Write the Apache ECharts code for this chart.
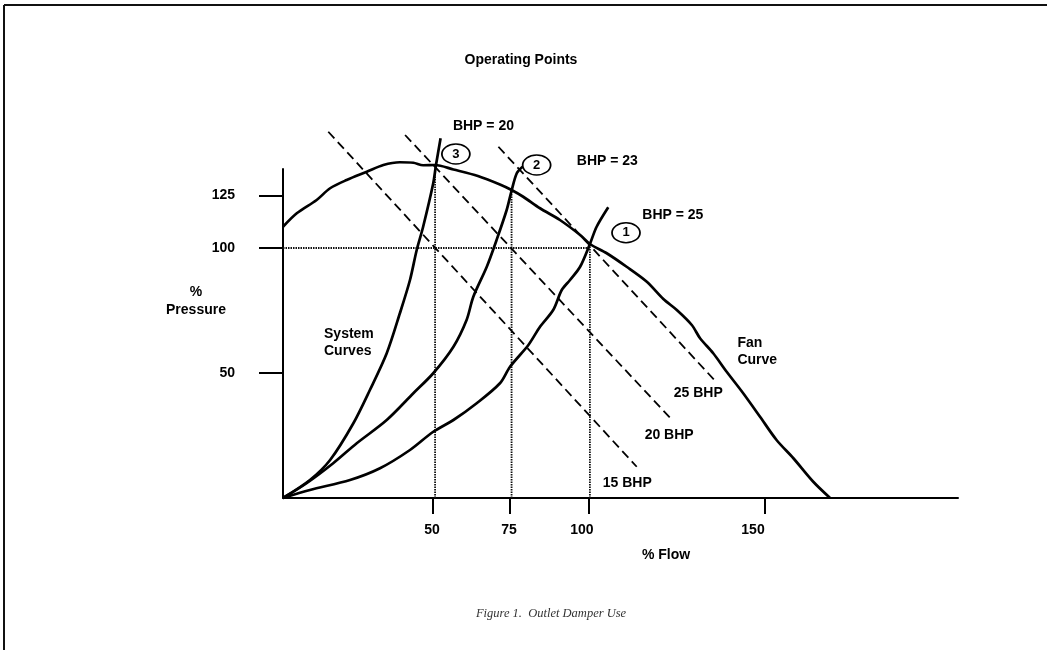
<!DOCTYPE html>
<html>
<head>
<meta charset="utf-8">
<script src="https://cdn.jsdelivr.net/npm/echarts@6/dist/echarts.min.js"></script>
<style>
html,body{margin:0;padding:0;background:#fff;}
#chart{width:1047px;height:650px;}
</style>
</head>
<body>
<div id="chart"></div>
<script>
// ---- data (% flow / % pressure units) ----
const fanX = [0, 4.5, 11.0, 15.4, 20.8, 27.4, 32.8, 38.2, 42.6, 45.8, 49.7, 55.7, 63.7, 70.9, 74.7, 78.5, 84.0, 90.5, 97.1, 100.3, 105.8, 112.3, 118.9, 124.3, 128.7, 133.6, 136.3, 140.6, 145.0, 150.4, 155.9, 161.3, 166.8, 173.3, 178.8];
const fanY = [108.5, 113.9, 119.2, 123.9, 127.2, 130.5, 133.2, 134.3, 134.1, 133.1, 133.2, 131.4, 128.8, 125.4, 123.2, 120.5, 115.9, 111.2, 105.2, 101.6, 97.9, 92.5, 86.5, 79.6, 75.2, 69.2, 63.9, 57.9, 50.5, 41.9, 32.5, 23.2, 15.9, 6.5, 0];

const sysAX = [0, 8.8, 15.4, 23.0, 28.4, 33.9, 38.2, 41.5, 43.7, 45.8, 49.1, 50.0, 51.5];
const sysAY = [0, 7.2, 15.2, 29.9, 43.2, 57.9, 73.9, 87.2, 99.2, 108.5, 125.9, 133.2, 143.9];

const sysBX = [0, 7.7, 16.4, 24.1, 33.9, 42.6, 49.1, 55.7, 60.0, 62.2, 66.6, 69.8, 73.1, 74.7, 76.4, 78.3];
const sysBY = [0, 5.9, 13.9, 21.9, 31.2, 41.9, 49.9, 60.5, 71.2, 80.5, 92.5, 103.2, 115.2, 122.9, 129.9, 132.5];

const sysCX = [0, 8.8, 21.9, 31.7, 41.5, 49.1, 55.7, 63.3, 70.9, 74.2, 80.2, 84.0, 88.3, 91.1, 93.8, 97.1, 100.3, 102.5, 106.3];
const sysCY = [0, 3.2, 7.2, 11.9, 19.2, 26.5, 31.2, 37.9, 45.9, 52.5, 61.2, 68.5, 75.2, 83.2, 87.2, 92.5, 101.6, 108.5, 116.3];

// constant-BHP lines: [startX, startY, endX, endY]
const bhpNames = ['15 BHP', '20 BHP', '25 BHP'];
const bhpLines = [[14.8, 146.5, 115.6, 12.5], [39.9, 145.2, 127.4, 30.9], [70.4, 140.5, 141.2, 46.9]];

// operating points
const opNames = ['3', '2', '1'];
const opX = [49.7, 74.7, 100.3];
const opY = [133.2, 122.9, 101.6];
const ratedPressure = 100;

// circled markers and text annotations (data units)
const circleX = [56.5, 82.9, 112.1];
const circleY = [137.6, 133.2, 106.1];
const noteText = ['BHP = 20', 'BHP = 23', 'BHP = 25', '25 BHP', '20 BHP', '15 BHP'];
const noteX = [65.5, 106.0, 127.4, 135.7, 126.2, 112.5];
const noteY = [148.8, 134.8, 113.2, 42.1, 25.2, 6.1];
const blockText = ['System\nCurves', 'Fan\nCurve'];
const blockX = [13.4, 148.5];
const blockY = [62.1, 58.5];

// axis ticks
const xTickValues = [49.0, 74.2, 100.0, 157.5];
const xLabelValues = [48.7, 73.9, 97.7, 153.6];
const xTickLabels = ['50', '75', '100', '150'];
const yTickValues = [50, 100, 121];
const yTickLabels = ['50', '100', '125'];
const xMax = 220.6, yMax = 131.6;

// ---- build ----
const zip = (a, b) => a.map((v, i) => [v, b[i]]);
const FONT = 'Liberation Sans, Arial, sans-serif';
const series = [];

// dotted guide lines
const dotted = {color: '#111', width: 1.8, type: [1.5, 1]};
series.push({type: 'line', data: [[0, ratedPressure], [opX[2], ratedPressure]], showSymbol: false, lineStyle: dotted, silent: true, z: 1});
opX.forEach((x, i) => {
  series.push({type: 'line', data: [[x, 0], [x, opY[i]]], showSymbol: false, lineStyle: dotted, silent: true, z: 1});
});

// dashed BHP lines
bhpLines.forEach((l, i) => {
  series.push({type: 'line', name: bhpNames[i], data: [[l[0], l[1]], [l[2], l[3]]], showSymbol: false, clip: false,
    lineStyle: {color: '#000', width: 1.8, type: [9, 5]}, silent: true, z: 2});
});

// solid curves
[[fanX, fanY], [sysAX, sysAY], [sysBX, sysBY], [sysCX, sysCY]].forEach(([xs, ys]) => {
  series.push({type: 'line', data: zip(xs, ys), showSymbol: false, smooth: 0.3, clip: false,
    lineStyle: {color: '#000', width: 2.7}, silent: true, z: 3});
});

// circled operating point numbers
series.push({type: 'scatter', clip: false, silent: true, z: 5,
  data: circleX.map((x, i) => ({name: opNames[i], value: [x, circleY[i]]})),
  symbol: 'circle', symbolSize: [28, 20],
  itemStyle: {color: '#fff', borderColor: '#000', borderWidth: 1.5, opacity: 1},
  label: {show: true, position: 'inside', formatter: p => p.name, color: '#000', fontFamily: FONT, fontWeight: 'bold', fontSize: 13}
});

// text notes
series.push({type: 'scatter', clip: false, silent: true, z: 6, symbolSize: 0,
  itemStyle: {opacity: 1},
  data: noteX.map((x, i) => ({name: noteText[i], value: [x, noteY[i]]})),
  label: {show: true, position: 'inside', formatter: p => p.name, color: '#000', fontFamily: FONT, fontWeight: 'bold', fontSize: 14}
});
series.push({type: 'scatter', clip: false, silent: true, z: 6, symbolSize: 0,
  itemStyle: {opacity: 1},
  data: blockX.map((x, i) => ({name: blockText[i], value: [x, blockY[i]]})),
  label: {show: true, position: 'inside', align: 'left', formatter: p => p.name, color: '#000', fontFamily: FONT, fontWeight: 'bold', fontSize: 14, lineHeight: 17}
});

const chart = echarts.init(document.getElementById('chart'), null, {renderer: 'canvas'});
chart.setOption({
  animation: false,
  backgroundColor: '#fff',
  grid: {left: 283, right: 89, top: 169, bottom: 152, containLabel: false},
  xAxis: {
    type: 'value', min: 0, max: xMax,
    axisLine: {show: true, lineStyle: {color: '#000', width: 2}},
    axisTick: {show: true, inside: false, length: 16, customValues: xTickValues, lineStyle: {color: '#000', width: 2}},
    axisLabel: {show: true, customValues: xLabelValues, margin: 25, color: '#000', fontFamily: FONT, fontWeight: 'bold', fontSize: 14,
      formatter: v => { const i = xLabelValues.indexOf(v); return i >= 0 ? xTickLabels[i] : ''; }},
    splitLine: {show: false}
  },
  yAxis: {
    type: 'value', min: 0, max: yMax,
    axisLine: {show: true, lineStyle: {color: '#000', width: 2}},
    axisTick: {show: true, inside: false, length: 24, customValues: yTickValues, lineStyle: {color: '#000', width: 2}},
    axisLabel: {show: true, customValues: yTickValues, margin: 48, color: '#000', fontFamily: FONT, fontWeight: 'bold', fontSize: 14,
      padding: [0, 0, 8, 0],
      formatter: v => { const i = yTickValues.indexOf(v); return i >= 0 ? yTickLabels[i] : ''; }},
    splitLine: {show: false}
  },
  graphic: [
    {type: 'line', shape: {x1: 4, y1: 5, x2: 1047, y2: 5}, style: {stroke: '#111', lineWidth: 2}},
    {type: 'line', shape: {x1: 4, y1: 5, x2: 4, y2: 650}, style: {stroke: '#111', lineWidth: 2}},
    {type: 'text', x: 521, y: 60, style: {text: 'Operating Points', fill: '#000', font: 'bold 14px ' + FONT, textAlign: 'center', textVerticalAlign: 'middle'}},
    {type: 'text', x: 666, y: 555, style: {text: '% Flow', fill: '#000', font: 'bold 14px ' + FONT, textAlign: 'center', textVerticalAlign: 'middle'}},
    {type: 'text', x: 196, y: 301, style: {text: '%\nPressure', fill: '#000', font: 'bold 14px ' + FONT, lineHeight: 18, textAlign: 'center', textVerticalAlign: 'middle'}},
    {type: 'text', x: 551, y: 614, style: {text: 'Figure 1.  Outlet Damper Use', fill: '#333', font: 'italic 12.5px Liberation Serif, serif', textAlign: 'center', textVerticalAlign: 'middle'}}
  ],
  series: series
});
</script>
</body>
</html>
